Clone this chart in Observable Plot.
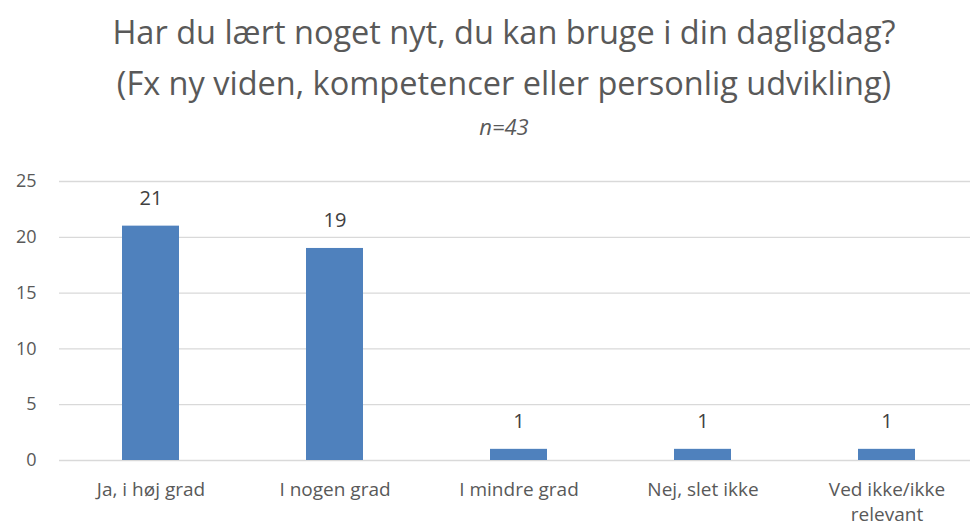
<!DOCTYPE html>
<html>
<head>
<meta charset="utf-8">
<script src="https://cdn.jsdelivr.net/npm/d3@7"></script>
<script src="https://cdn.jsdelivr.net/npm/@observablehq/plot@0.6"></script>
<style>
  body { margin: 0; background: #fff; font-family: "Open Sans", sans-serif; color: #595959; }
  #wrap { width: 970px; height: 528px; overflow: hidden; position: relative; }
  .t1 { position: absolute; left: 19px; width: 970px; text-align: center; font-size: 32.5px; line-height: 1; white-space: nowrap; }
  .sub { position: absolute; left: 19px; width: 970px; text-align: center; font-size: 22px; font-style: italic; line-height: 1; }
  #chart { position: absolute; left: 0; top: 150px; }
</style>
</head>
<body>
<div id="wrap">
  <div class="t1" style="top:16px">Har du lært noget nyt, du kan bruge i din dagligdag?</div>
  <div class="t1" style="top:67px">(Fx ny viden, kompetencer eller personlig udvikling)</div>
  <div class="sub" style="top:115px">n=43</div>
  <div id="chart"></div>
</div>
<script>
const categories = ["Ja, i høj grad", "I nogen grad", "I mindre grad", "Nej, slet ikke", "Ved ikke/ikke relevant"];
const counts = [21, 19, 1, 1, 1];
const yTicks = [0, 5, 10, 15, 20, 25];
const tickLabels = {"Ved ikke/ikke relevant": "Ved ikke/ikke\nrelevant"};

const data = categories.map((c, i) => ({category: c, count: counts[i]}));

const chart = Plot.plot({
  width: 970,
  height: 378,
  marginLeft: 59,
  marginRight: 0,
  marginTop: 31,
  marginBottom: 68,
  style: {fontFamily: "Open Sans, sans-serif", fontSize: "18px", color: "#595959", background: "#fff"},
  x: {domain: categories, range: [59, 979], paddingInner: 0.69, paddingOuter: 0.345, label: null},
  y: {domain: [0, 25], label: null},
  marks: [
    Plot.ruleY(yTicks, {stroke: "#d9d9d9", strokeWidth: 1.3, strokeOpacity: 1}),
    Plot.barY(data, {x: "category", y: "count", fill: "#4f81bd"}),
    Plot.text(data, {x: "category", y: "count", text: d => String(d.count), dy: -28, fontSize: 20, fill: "#404040"}),
    Plot.axisY({ticks: yTicks, tickSize: 0, tickPadding: 23, fontSize: 18, fill: "#595959"}),
    Plot.axisX({tickSize: 0, tickPadding: 18, fontSize: 19, fill: "#595959", tickFormat: d => tickLabels[d] ?? d, lineHeight: 1.32})
  ]
});
document.getElementById("chart").appendChild(chart);
</script>
</body>
</html>
